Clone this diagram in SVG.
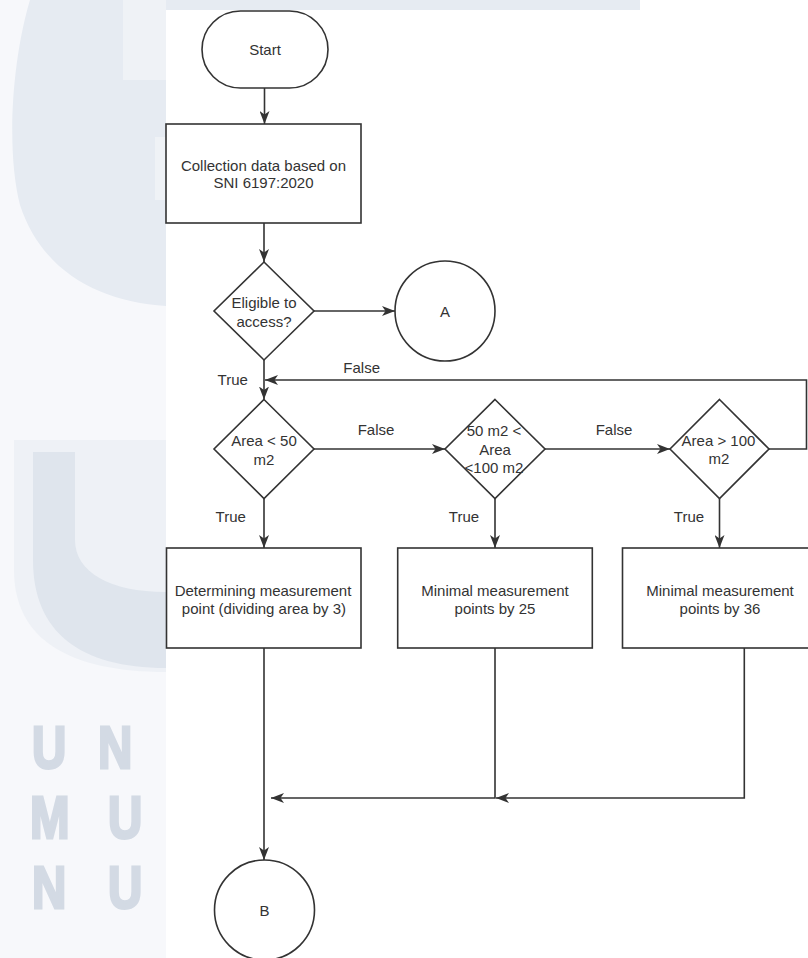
<svg xmlns="http://www.w3.org/2000/svg" width="808" height="958" viewBox="0 0 808 958">
  <style>
    .t { font-family: "Liberation Sans", Arial, sans-serif; font-size: 15px; fill: #333333; text-anchor: middle; }
    .shape { fill: #ffffff; stroke: #333333; stroke-width: 1.6; }
    .edge { fill: none; stroke: #333333; stroke-width: 1.6; }
    .wm { font-family: "Liberation Sans", Arial, sans-serif; font-weight: 700; font-size: 50px; fill: #d3dae4; stroke: #d3dae4; stroke-width: 2.5; }
  </style>
  <defs>
    <marker id="arr" markerUnits="userSpaceOnUse" viewBox="0 0 13 10" markerWidth="13" markerHeight="10" refX="13" refY="5" orient="auto">
      <path d="M0,0 L13,5 L0,10 L3.5,5 Z" fill="#333333"/>
    </marker>
  </defs>

  <!-- background and watermark -->
  <g id="watermark">
    <rect x="0" y="0" width="808" height="958" fill="#ffffff"/>
    <rect x="0" y="0" width="166" height="958" fill="#f7f8fb"/>
    <path d="M30,0 C12,60 6,150 20,205 C42,272 100,302 166,306 L166,10 L640,10 L640,0 Z" fill="#e6ebf2"/>
    <rect x="123" y="0" width="43" height="80" fill="#eff2f6"/>
    <rect x="155" y="137" width="11" height="63" fill="#eff2f6"/>
    <path d="M14,440 L166,440 L166,672 C70,672 14,640 14,570 Z" fill="#eef1f6"/>
    <path d="M33,452 L75,452 L75,540 C75,572 110,592 166,592 L166,668 C80,668 33,632 33,560 Z" fill="#dfe5ed"/>
    <text class="wm" transform="translate(32,768) scale(0.95,1.2)">U</text>
    <text class="wm" transform="translate(98,768) scale(0.95,1.2)">N</text>
    <text class="wm" transform="translate(30,838) scale(0.95,1.2)">M</text>
    <text class="wm" transform="translate(108,838) scale(0.95,1.2)">U</text>
    <text class="wm" transform="translate(32,908) scale(0.95,1.2)">N</text>
    <text class="wm" transform="translate(108,908) scale(0.95,1.2)">U</text>
    <rect x="166" y="10" width="642" height="948" fill="#ffffff"/>
  </g>

  <!-- connectors -->
  <g id="connectors">
    <path class="edge" d="M264.5,88 L264.5,124" marker-end="url(#arr)"/>
    <path class="edge" d="M264,223 L264,262" marker-end="url(#arr)"/>
    <path class="edge" d="M314,311 L395,311" marker-end="url(#arr)"/>
    <path class="edge" d="M264,360 L264,399.5" marker-end="url(#arr)"/>
    <path class="edge" d="M769,449 L806.5,449 L806.5,380 L265,380" marker-end="url(#arr)"/>
    <path class="edge" d="M314,449 L445,449" marker-end="url(#arr)"/>
    <path class="edge" d="M545,449 L670,449" marker-end="url(#arr)"/>
    <path class="edge" d="M264,498.5 L264,548" marker-end="url(#arr)"/>
    <path class="edge" d="M495,498.5 L495,548" marker-end="url(#arr)"/>
    <path class="edge" d="M719.5,498.5 L719.5,548" marker-end="url(#arr)"/>
    <path class="edge" d="M264,648 L264,860" marker-end="url(#arr)"/>
    <path class="edge" d="M495,648 L495,798 L271,798" marker-end="url(#arr)"/>
    <path class="edge" d="M744.3,648 L744.3,798 L496,798" marker-end="url(#arr)"/>
    <text class="t" x="232.7" y="385">True</text>
    <text class="t" x="361.7" y="372.5">False</text>
    <text class="t" x="376" y="434.8">False</text>
    <text class="t" x="614" y="434.8">False</text>
    <text class="t" x="230.7" y="522">True</text>
    <text class="t" x="464" y="522">True</text>
    <text class="t" x="689" y="522">True</text>
  </g>

  <g id="start">
    <rect class="shape" x="202" y="11" width="126" height="77" rx="38.5" ry="38.5"/>
    <text class="t" x="265" y="54.5">Start</text>
  </g>

  <g id="collect">
    <rect class="shape" x="166" y="124" width="195" height="99"/>
    <text class="t" x="263.5" y="171">Collection data based on</text>
    <text class="t" x="263.5" y="188">SNI 6197:2020</text>
  </g>

  <g id="eligible">
    <polygon class="shape" points="264,262 314,311 264,360 214,311"/>
    <text class="t" x="264" y="308">Eligible to</text>
    <text class="t" x="264" y="327">access?</text>
  </g>

  <g id="connector-a">
    <circle class="shape" cx="445" cy="311" r="50"/>
    <text class="t" x="445" y="317">A</text>
  </g>

  <g id="area-lt-50">
    <polygon class="shape" points="264,399.5 314,449 264,498.5 214,449"/>
    <text class="t" x="264" y="445.5">Area &lt; 50</text>
    <text class="t" x="264" y="464.5">m2</text>
  </g>

  <g id="area-50-100">
    <polygon class="shape" points="495,399.5 545,449 495,498.5 445,449"/>
    <text class="t" x="494" y="435.5">50 m2 &lt;</text>
    <text class="t" x="495" y="454.5">Area</text>
    <text class="t" x="494" y="473">&lt;100 m2</text>
  </g>

  <g id="area-gt-100">
    <polygon class="shape" points="719.5,399.5 769,449 719.5,498.5 670,449"/>
    <text class="t" x="718.5" y="445.5">Area &gt; 100</text>
    <text class="t" x="719" y="464">m2</text>
  </g>

  <g id="determine">
    <rect class="shape" x="166.5" y="548" width="194.5" height="100"/>
    <text class="t" x="263" y="595.5">Determining measurement</text>
    <text class="t" x="264" y="613.8">point (dividing area by 3)</text>
  </g>

  <g id="minimal-25">
    <rect class="shape" x="397.7" y="548" width="194.6" height="100"/>
    <text class="t" x="495" y="595.5">Minimal measurement</text>
    <text class="t" x="495" y="613.8">points by 25</text>
  </g>

  <g id="minimal-36">
    <rect class="shape" x="622.5" y="548" width="195" height="100"/>
    <text class="t" x="720" y="595.5">Minimal measurement</text>
    <text class="t" x="720" y="613.8">points by 36</text>
  </g>

  <g id="connector-b">
    <circle class="shape" cx="264.5" cy="910" r="50"/>
    <text class="t" x="264.5" y="915.5">B</text>
  </g>
</svg>
